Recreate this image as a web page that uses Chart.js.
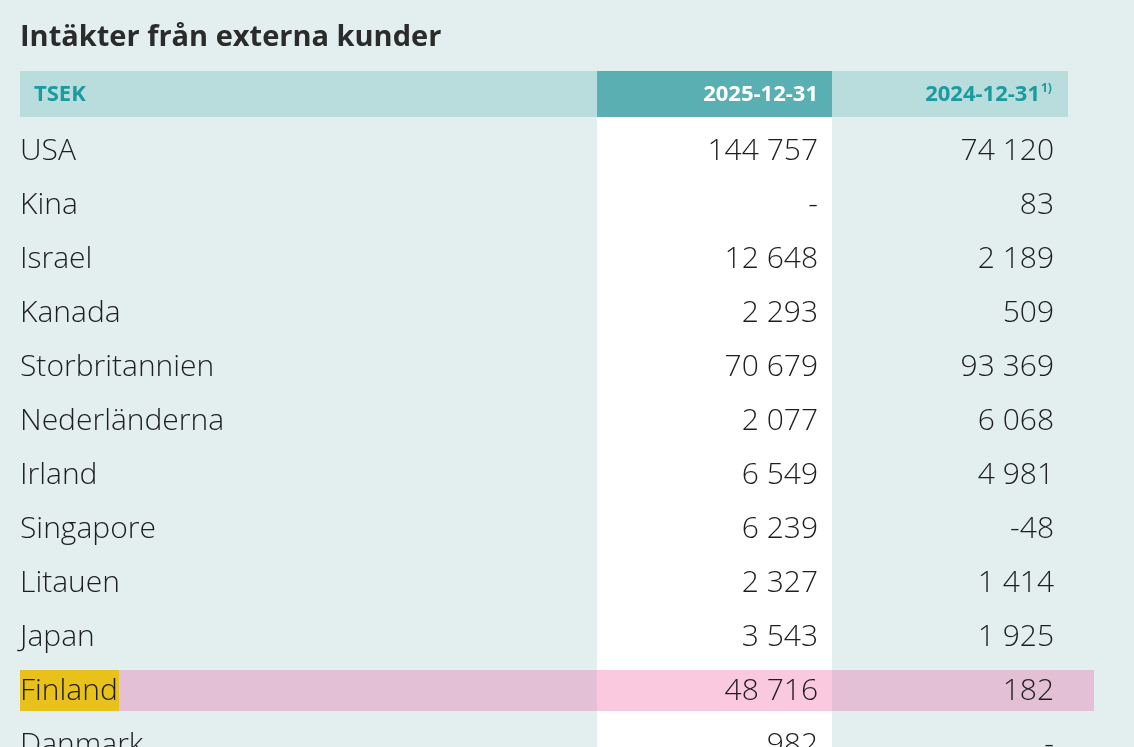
<!DOCTYPE html>
<html><head><meta charset="utf-8">
<script src="https://cdn.jsdelivr.net/npm/chart.js@4"></script>
<style>html,body{margin:0;background:#e3efef;overflow:hidden}#c{display:block}</style>
</head><body>
<div style="width:1134px;height:747px"><canvas id="c"></canvas></div>
<script>
const title = "Intäkter från externa kunder";
const headers = ["TSEK", "2025-12-31", "2024-12-31"];
const countries = ["USA","Kina","Israel","Kanada","Storbritannien","Nederländerna","Irland","Singapore","Litauen","Japan","Finland","Danmark"];
const v2025 = ["144 757","-","12 648","2 293","70 679","2 077","6 549","6 239","2 327","3 543","48 716","982"];
const v2024 = ["74 120","83","2 189","509","93 369","6 068","4 981","-48","1 414","1 925","182","-"];
const highlight = "Finland";

const FONT = '"Open Sans", sans-serif';
const tablePlugin = {
  id: 'table',
  beforeDraw(chart) {
    const c = chart.ctx, x = chart.scales.x, y = chart.scales.y;
    const X = v => x.getPixelForValue(v);
    c.save();
    c.fillStyle = '#e3efef'; c.fillRect(0, 0, chart.width, chart.height);
    // title
    c.fillStyle = '#2b2b2b'; c.font = 'bold 29px ' + FONT; c.textBaseline = 'middle';
    c.fillText(title, X(20), 38);
    // header band
    c.fillStyle = '#b9dcdc'; c.fillRect(X(20), 71, X(1068) - X(20), 46);
    c.fillStyle = '#5aafb3'; c.fillRect(X(597), 71, X(832) - X(597), 46);
    // white column body
    c.fillStyle = '#ffffff'; c.fillRect(X(597), 117, X(832) - X(597), chart.height - 117);
    // highlighted row
    const hi = countries.indexOf(highlight);
    if (hi >= 0) {
      const yc = y.getPixelForValue(hi);
      c.fillStyle = '#e3c0d6'; c.fillRect(X(20), yc - 21, X(1094) - X(20), 41);
      c.fillStyle = '#fbc9df'; c.fillRect(X(597), yc - 21, X(832) - X(597), 41);
      c.fillStyle = '#e8c21a'; c.fillRect(X(20), yc - 21, X(119) - X(20), 41);
    }
    // header text
    c.font = 'bold 22px ' + FONT;
    c.fillStyle = '#1a9ba0'; c.textAlign = 'left'; c.fillText(headers[0], X(34), 95);
    c.fillStyle = '#ffffff'; c.textAlign = 'right'; c.fillText(headers[1], X(818), 95);
    c.fillStyle = '#1a9ba0'; c.fillText(headers[2], X(1040), 95);
    c.font = 'bold 12px ' + FONT; c.textAlign = 'left'; c.fillText('1)', X(1041), 89);
    // rows
    c.font = '300 30px ' + FONT; c.fillStyle = '#1e1e1e';
    countries.forEach((n, i) => {
      const yc = y.getPixelForValue(i);
      c.textAlign = 'left'; c.fillText(n, X(20), yc);
      c.textAlign = 'right';
      c.fillText(v2025[i], X(818), yc);
      c.fillText(v2024[i], X(1054), yc);
    });
    c.restore();
  }
};

new Chart(document.getElementById('c'), {
  type: 'bar',
  data: { labels: countries, datasets: [{ data: countries.map(() => null) }] },
  options: {
    responsive: true, maintainAspectRatio: false, animation: false,
    layout: { padding: 0 },
    plugins: { legend: { display: false }, tooltip: { enabled: false } },
    scales: {
      x: { type: 'linear', offset: false, min: 0, max: 1134, display: false },
      y: { type: 'linear', offset: false, reverse: true, min: -151 / 54, max: (747 - 151) / 54, display: false }
    }
  },
  plugins: [tablePlugin]
});
</script>
</body></html>
